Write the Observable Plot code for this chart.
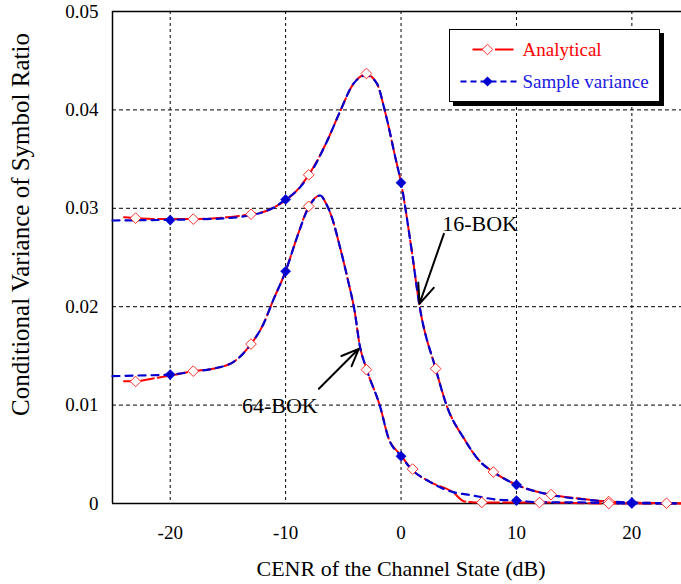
<!DOCTYPE html>
<html>
<head>
<meta charset="utf-8">
<script src="https://cdn.jsdelivr.net/npm/d3@7"></script>
<script src="https://cdn.jsdelivr.net/npm/@observablehq/plot@0.6"></script>
<style>
  body { margin: 0; background: #fff; }
  #wrap { position: relative; width: 681px; height: 584px; font-family: "Liberation Serif", "Times New Roman", serif; }
  #legend { position: absolute; left: 449px; top: 29px; width: 211px; height: 73px; box-sizing: border-box;
            border: 1.5px solid #000; background: #fff; box-shadow: 4px 4px 0 #000; }
  #legend svg { display: block; }
</style>
</head>
<body>
<div id="wrap"></div>
<script>
// ---- axes ----
const xTicks = [-20, -10, 0, 10, 20];
const yTicks = [0, 0.01, 0.02, 0.03, 0.04, 0.05];
const xTitle = "CENR of the Channel State (dB)";
const yTitle = "Conditional Variance of Symbol Ratio";
const seriesNames = ["Analytical", "Sample variance"];

// ---- 16-BOK, analytical (line) ----
const x16A = [-24,-23,-21,-18,-15,-13,-12,-11,-10,-9.2,-8,-6.3,-5.3,-4.1,-3,-2.1,-1.4,-0.5,0,0.9,1.6,3,4,5.4,6.9,8,10,12.9,15.5,18,20,23,24.3];
const y16A = [0.0291,0.0290,0.0289,0.0289,0.0291,0.0294,0.0296,0.0301,0.0308,0.0316,0.0334,0.0371,0.0398,0.0427,0.0436,0.0427,0.0399,0.0352,0.0326,0.0259,0.0201,0.0137,0.0098,0.0067,0.0042,0.0032,0.0019,0.0009,0.0005,0.0002,0.0001,0.00003,0.00002];
// ---- 16-BOK, sample variance (line) ----
const x16S = [-25,-23,-20,-17,-15,-13,-12,-11,-10,-9.2,-8,-6.3,-5.3,-4.1,-3,-2.1,-1.4,-0.5,0,0.9,1.6,3,4,5.4,6.9,8,10,12.9,16,18,20,23,24.3];
const y16S = [0.02876,0.02878,0.02883,0.0289,0.0290,0.0293,0.0296,0.0301,0.0309,0.0316,0.0333,0.0371,0.0398,0.0427,0.0435,0.0427,0.0399,0.0352,0.0326,0.0259,0.0201,0.0137,0.0098,0.0067,0.0042,0.0032,0.0019,0.0009,0.0004,0.0002,0.0001,0.00003,0.00002];
// ---- 64-BOK, analytical (line) ----
const x64A = [-24,-23,-21.5,-20,-18,-16.3,-14.5,-13,-11.9,-11.1,-10,-9,-8,-7,-6.5,-6,-5.3,-4.6,-4,-3.6,-3,-1.8,-1.1,0,0.9,2.5,4.5,5.5,7,12,18,24.3];
const y64A = [0.01243,0.01243,0.0127,0.0130,0.01345,0.0137,0.0144,0.0162,0.0183,0.0206,0.0236,0.0271,0.0302,0.0313,0.0305,0.0291,0.0261,0.0227,0.0194,0.0162,0.0137,0.0098,0.0067,0.0049,0.0035,0.0022,0.00115,0.0002,0.0001,0.0001,0.0,0.0];
// ---- 64-BOK, sample variance (line) ----
const x64S = [-25,-23,-20,-18,-16.3,-14.5,-13,-11.9,-11.1,-10,-9,-8,-7,-6.5,-6,-5.3,-4.6,-4,-3.6,-3,-1.8,-1.1,0,0.9,2.5,4.5,5.8,8.3,10,11.8,16,20,24.3];
const y64S = [0.01294,0.0130,0.0131,0.0134,0.0137,0.0144,0.0162,0.0183,0.0206,0.0236,0.0271,0.0301,0.0313,0.0305,0.0291,0.0261,0.0227,0.0194,0.0162,0.0137,0.0098,0.0067,0.0048,0.0035,0.0022,0.00115,0.0009,0.0004,0.0003,0.00013,0.0001,0.0,0.0];

// ---- markers ----
const mx16A = [-23,-18,-13,-8,-3,3,8,13,18,23];
const my16A = [0.0290,0.0289,0.0294,0.0334,0.0437,0.0137,0.0032,0.0009,0.0002,0.00003];
const mx16S = [-20,-10,0,10,20];
const my16S = [0.0288,0.0309,0.0326,0.0019,0.0001];
const mx64A = [-23,-18,-13,-8,-3,1,7,12,18];
const my64A = [0.0124,0.01345,0.0162,0.0302,0.0136,0.0035,0.0001,0.0001,0.0];
const mx64S = [-20,-10,0,10,20];
const my64S = [0.0131,0.0236,0.0048,0.0003,0.0];

// ---- annotations ----
const annoLabels = ["16-BOK", "64-BOK"];
const annoX = [6.85, -10.5];
const annoY = [0.0284, 0.0099];
const arrowX1 = [3.71, -7.12];
const arrowY1 = [0.0274, 0.01166];
const arrowX2 = [1.6, -3.66];
const arrowY2 = [0.0203, 0.01572];

const zip = (xs, ys) => xs.map((x, i) => ({x, y: ys[i]}));
const red = "#ff0000", blue = "#0000d0";
const font = '"Liberation Serif", "Times New Roman", serif';
const fmt = d => String(d);

const annos = annoLabels.map((t, i) => ({t, x: annoX[i], y: annoY[i], x1: arrowX1[i], y1: arrowY1[i], x2: arrowX2[i], y2: arrowY2[i]}));

const plot = Plot.plot({
  width: 681, height: 584,
  marginLeft: 112, marginRight: 0, marginTop: 11, marginBottom: 81,
  style: {fontFamily: font, fontSize: "19px", background: "#fff", color: "#000", overflow: "visible"},
  x: {domain: [-25, 24.3], label: null},
  y: {domain: [0, 0.05], label: null},
  marks: [
    Plot.gridX(xTicks, {stroke: "#000", strokeOpacity: 1, strokeWidth: 1, strokeDasharray: "3,3"}),
    Plot.gridY(yTicks.filter(d => d > 0 && d < 0.05), {stroke: "#000", strokeOpacity: 1, strokeWidth: 1, strokeDasharray: "4,3"}),
    Plot.ruleX([-25], {stroke: "#000", strokeWidth: 1.5}),
    Plot.ruleY([0], {stroke: "#000", strokeWidth: 1.5}),
    Plot.ruleY([0.05], {stroke: "#000", strokeWidth: 1.5}),
    Plot.axisX({ticks: xTicks, tickSize: 0, tickPadding: 22, tickFormat: fmt, fontSize: 19, label: null}),
    Plot.axisY({ticks: yTicks, tickSize: 0, tickPadding: 14, tickFormat: fmt, fontSize: 19, label: null}),
    // lines
    Plot.line(zip(x16A, y16A), {x: "x", y: "y", stroke: red, strokeWidth: 2, strokeDasharray: "13,4", curve: "monotone-x"}),
    Plot.line(zip(x64A, y64A), {x: "x", y: "y", stroke: red, strokeWidth: 2, strokeDasharray: "13,4", curve: "monotone-x"}),
    Plot.line(zip(x16S, y16S), {x: "x", y: "y", stroke: blue, strokeWidth: 2.2, strokeDasharray: "7,6", curve: "monotone-x"}),
    Plot.line(zip(x64S, y64S), {x: "x", y: "y", stroke: blue, strokeWidth: 2.2, strokeDasharray: "7,6", curve: "monotone-x"}),
    // markers
    Plot.dot(zip(mx16A, my16A).concat(zip(mx64A, my64A)), {x: "x", y: "y", symbol: "diamond2", r: 4.8, stroke: "#ff3030", strokeWidth: 1, fill: "#fff"}),
    Plot.dot(zip(mx16S, my16S).concat(zip(mx64S, my64S)), {x: "x", y: "y", symbol: "diamond2", r: 4.6, fill: blue, stroke: blue, strokeWidth: 0.5}),
    // annotations
    Plot.arrow(annos, {x1: "x1", y1: "y1", x2: "x2", y2: "y2", stroke: "#000", strokeWidth: 2, headLength: 16, headAngle: 45}),
    Plot.text(annos, {x: "x", y: "y", text: "t", fontSize: 22, fill: "#000", textAnchor: "middle"}),
    // axis titles
    Plot.text([xTitle], {frameAnchor: "bottom", dx: 4, dy: 65, fontSize: 22, fill: "#000", textAnchor: "middle", lineAnchor: "middle"}),
    Plot.text([yTitle], {frameAnchor: "top-left", dx: -92, dy: 213, rotate: -90, fontSize: 25, fill: "#000", textAnchor: "middle", lineAnchor: "middle"})
  ]
});

const wrap = document.getElementById("wrap");
wrap.appendChild(plot);

// ---- legend (inside the plot area, top-right) ----
const legend = document.createElement("div");
legend.id = "legend";
legend.innerHTML = `
<svg width="208" height="70" xmlns="http://www.w3.org/2000/svg" font-family='${font}' font-size="19">
  <line x1="22.5" y1="19.5" x2="33" y2="19.5" stroke="${red}" stroke-width="2"/>
  <line x1="45" y1="19.5" x2="63.5" y2="19.5" stroke="${red}" stroke-width="2"/>
  <path d="M37.5,14.2L42.8,19.5L37.5,24.8L32.2,19.5Z" fill="#fff" stroke="#ff3030" stroke-width="1"/>
  <text x="72.5" y="19.5" dominant-baseline="central" fill="${red}">${seriesNames[0]}</text>
  <line x1="10.5" y1="51.5" x2="66.5" y2="51.5" stroke="${blue}" stroke-width="2.2" stroke-dasharray="6,4"/>
  <path d="M37.5,46.4L42.6,51.5L37.5,56.6L32.4,51.5Z" fill="${blue}"/>
  <text x="72.5" y="51.5" dominant-baseline="central" fill="#2020e0">${seriesNames[1]}</text>
</svg>`;
wrap.appendChild(legend);
</script>
</body>
</html>
